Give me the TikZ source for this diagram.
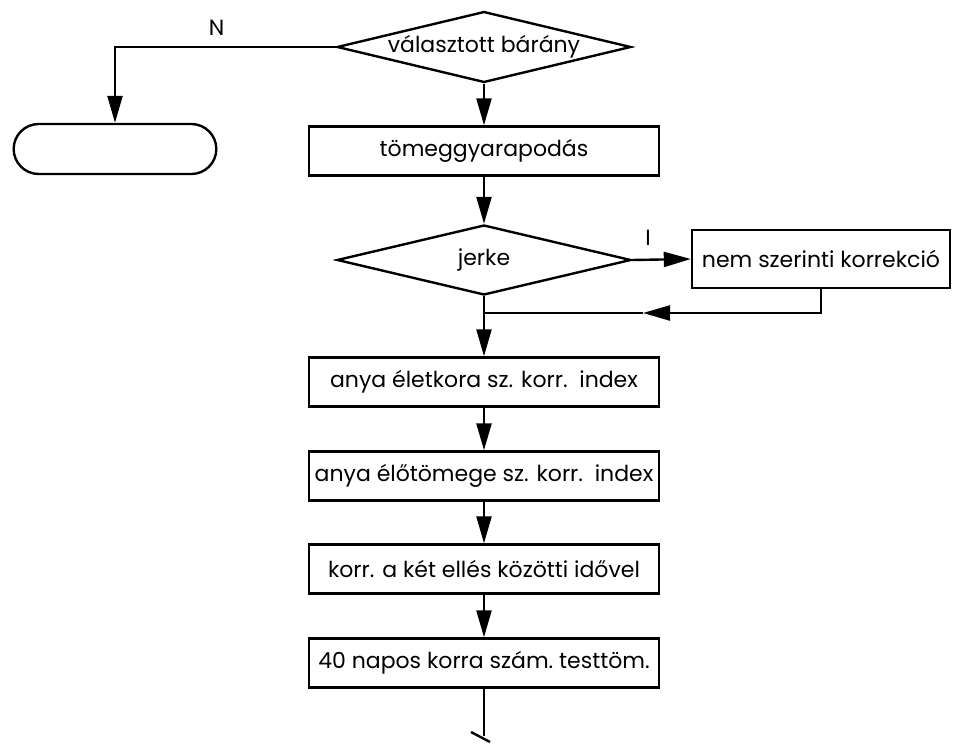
\documentclass[tikz,border=0pt]{standalone}
\usepackage{fontspec}
\setmainfont{Poppins}
\usetikzlibrary{shapes.geometric, shapes.misc, arrows.meta, positioning}

\tikzset{
  decision/.style={draw, diamond, aspect=4, inner sep=0pt,
    minimum width=147pt, minimum height=35pt},
  terminal/.style={draw, rounded rectangle, minimum width=108pt, minimum height=25pt},
  stepbox/.style={draw, rectangle, inner sep=1pt, minimum width=175pt, minimum height=24.5pt}
}

\begin{document}
\begin{tikzpicture}[>={Triangle[length=13.5pt,width=7.5pt]}, x=.5pt, y=-.5pt,
  line width=1.2pt, font=\fontsize{11}{13}\selectfont]
\useasboundingbox (0,0) rectangle (954,744);
%
\node[decision] (valasztott) at (484,47) {választott bárány};
\node[terminal] (kilep) at (115,149) {};
\node[stepbox] (tomeg) at (484,151) {tömeggyarapodás};
\node[decision] (jerke) at (484,260) {jerke};
\node[stepbox, minimum width=129pt, minimum height=29pt] (nemkorr) at (821,259) {nem szerinti korrekció};
\coordinate (ossze) at (484,313);
\coordinate (vissza) at (643,313);
%
\node[stepbox] (eletkor) at (484,382) {anya életkora sz. korr.\ \ index};
\node[stepbox] (elotomeg) at (484,476) {anya élőtömege sz. korr.\ \ index};
\node[stepbox] (elles) at (484,569) {korr. a két ellés közötti idővel};
\node[stepbox] (napos) at (484,663) {40 napos korra szám.\ testtöm.};
\coordinate (tovabb) at (484,736);
%
\draw[->] (valasztott.west) -| node[pos=0.27, above=2pt] {N} (kilep.north);
\draw[->] (valasztott) -- (tomeg);
\draw[->] (tomeg) -- (jerke.north);
\draw[->] (jerke.east) -- node[pos=0.27, above=3pt] {I} (nemkorr.west);
\draw[->] (nemkorr.south) |- (vissza);
\draw (vissza) -- (ossze);
\draw (jerke.south) -- (ossze);
\draw[->] (ossze) -- (eletkor);
%
\draw[->] (eletkor) -- (elotomeg);
\draw[->] (elotomeg) -- (elles);
\draw[->] (elles) -- (napos);
\draw (napos) -- (tovabb);
\draw ([shift={(-13,-4)}]tovabb) -- ([shift={(6,6)}]tovabb);
\end{tikzpicture}
\end{document}
